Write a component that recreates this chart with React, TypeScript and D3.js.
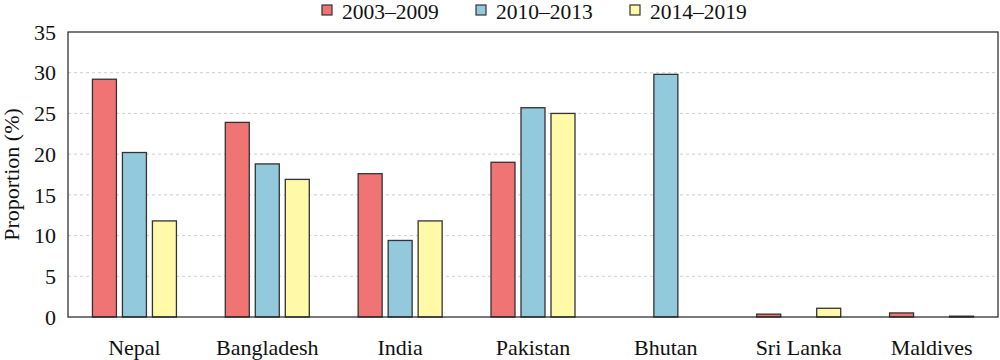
import React from "react";
import * as d3 from "d3";

const categories = ["Nepal", "Bangladesh", "India", "Pakistan", "Bhutan", "Sri Lanka", "Maldives"];
const seriesNames = ["2003\u20132009", "2010\u20132013", "2014\u20132019"];
const s2003_2009 = [29.2, 23.9, 17.6, 19.0, 0, 0.35, 0.5];
const s2010_2013 = [20.2, 18.8, 9.4, 25.7, 29.8, 0, 0];
const s2014_2019 = [11.8, 16.9, 11.8, 25.0, 0, 1.07, 0.1];
const yTicks = [0, 5, 10, 15, 20, 25, 30, 35];
const colors = ["#F07474", "#92C9DD", "#FFF9A8"];

const W = 1000, H = 360;
const M = { left: 68, right: 2, top: 32, bottom: 43 };
const FONT = "'Liberation Serif', 'Times New Roman', serif";

export default function App() {
  const series = [s2003_2009, s2010_2013, s2014_2019];
  const x = d3.scaleBand<string>().domain(categories).range([M.left, W - M.right]).padding(0);
  const y = d3.scaleLinear().domain([0, 35]).range([H - M.bottom, M.top]);
  const groupW = 84;
  const x1 = d3.scaleBand<number>().domain([0, 1, 2]).range([-groupW / 2, groupW / 2]).paddingInner(0.2);
  const legendX = [322, 476, 630];
  return (
    <svg width={W} height={H} style={{ position: "absolute", left: 0, top: 0, background: "#fff" }} fontFamily={FONT}>
      {yTicks.filter((t) => t > 0 && t < 35).map((t) => (
        <line key={t} x1={M.left} x2={W - M.right} y1={y(t)} y2={y(t)} stroke="#cfcfcf" strokeDasharray="3,3" strokeWidth={1} />
      ))}
      {categories.map((c, i) => (
        <g key={c}>
          {series.map((s, j) => {
            const v = s[i];
            if (v <= 0) return null;
            const cx = (x(c) as number) + x.bandwidth() / 2;
            return (
              <rect key={j} x={cx + (x1(j) as number)} y={y(v)} width={x1.bandwidth()} height={y(0) - y(v)}
                fill={colors[j]} stroke="#333" strokeWidth={1.3} />
            );
          })}
        </g>
      ))}
      <rect x={M.left} y={M.top} width={W - M.right - M.left} height={H - M.bottom - M.top} fill="none" stroke="#222" strokeWidth={1.2} />
      {yTicks.map((t) => (
        <text key={t} x={56} y={y(t)} dy="0.35em" textAnchor="end" fontSize={22} fill="#111">{t}</text>
      ))}
      {categories.map((c) => (
        <text key={c} x={(x(c) as number) + x.bandwidth() / 2} y={355} textAnchor="middle" fontSize={22} fill="#111">{c}</text>
      ))}
      <text transform={`translate(19,${(M.top + H - M.bottom) / 2}) rotate(-90)`} textAnchor="middle" fontSize={22} fill="#111">Proportion (%)</text>
      {seriesNames.map((n, j) => (
        <g key={n}>
          <rect x={legendX[j]} y={5} width={10} height={10} fill={colors[j]} stroke="#333" strokeWidth={1.2} />
          <text x={legendX[j] + 20} y={19} fontSize={21.5} fill="#111">{n}</text>
        </g>
      ))}
    </svg>
  );
}
